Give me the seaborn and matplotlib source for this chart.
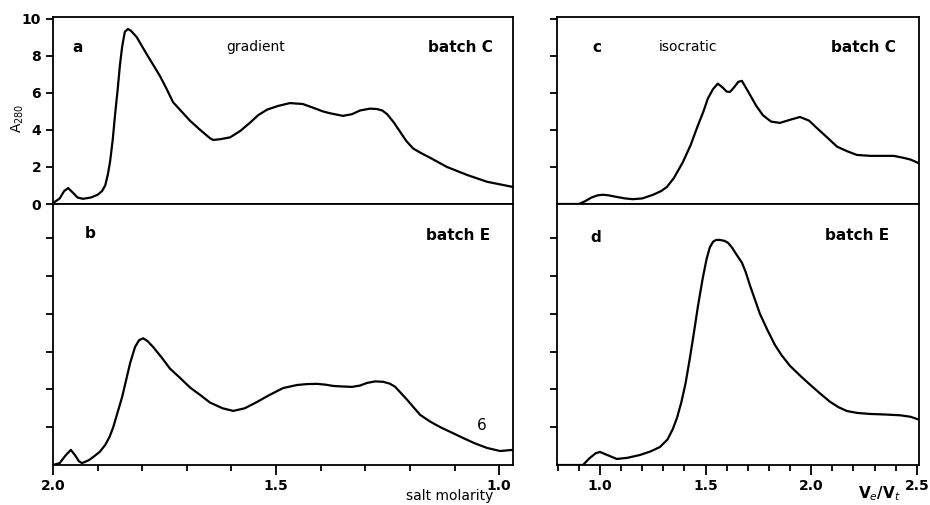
import matplotlib
matplotlib.use("Agg")
import matplotlib.pyplot as plt
import seaborn as sns
import pandas as pd
from matplotlib.ticker import MultipleLocator, FixedLocator

# ---- data ----
a_x = [2.00, 1.985, 1.975, 1.966, 1.955, 1.945, 1.933, 1.915, 1.90, 1.89, 1.883, 1.877, 1.872, 1.866,
       1.861, 1.855, 1.850, 1.845, 1.839, 1.832, 1.825, 1.812, 1.800, 1.789, 1.775, 1.760, 1.745, 1.731,
       1.712, 1.693, 1.670, 1.648, 1.641, 1.625, 1.603, 1.580, 1.558, 1.540, 1.520, 1.495, 1.469, 1.440,
       1.417, 1.395, 1.379, 1.350, 1.330, 1.312, 1.290, 1.274, 1.262, 1.251, 1.236, 1.222, 1.208, 1.193,
       1.175, 1.155, 1.117, 1.072, 1.027, 0.969]
a_y = [0.05, 0.3, 0.7, 0.86, 0.6, 0.35, 0.28, 0.35, 0.5, 0.7, 1.0, 1.6, 2.3, 3.5,
       4.8, 6.2, 7.5, 8.5, 9.3, 9.45, 9.35, 9.0, 8.5, 8.05, 7.5, 6.9, 6.2, 5.5,
       5.0, 4.5, 4.0, 3.55, 3.46, 3.5, 3.6, 3.95, 4.4, 4.8, 5.1, 5.3, 5.45, 5.4,
       5.2, 5.0, 4.9, 4.76, 4.85, 5.05, 5.15, 5.13, 5.05, 4.85, 4.4, 3.9, 3.4, 3.0,
       2.75, 2.5, 2.0, 1.57, 1.2, 0.92]

b_x = [2.00, 1.985, 1.972, 1.960, 1.950, 1.942, 1.935, 1.920, 1.910, 1.895, 1.883, 1.873, 1.865, 1.855,
       1.845, 1.836, 1.827, 1.816, 1.807, 1.798, 1.788, 1.776, 1.757, 1.738, 1.715, 1.693, 1.670, 1.648,
       1.620, 1.596, 1.570, 1.543, 1.515, 1.484, 1.453, 1.430, 1.408, 1.390, 1.372, 1.350, 1.330, 1.312,
       1.296, 1.278, 1.260, 1.245, 1.233, 1.220, 1.206, 1.190, 1.177, 1.155, 1.132, 1.105, 1.081, 1.055,
       1.027, 0.998, 0.969]
b_y = [0.0, 0.1, 0.5, 0.8, 0.5, 0.2, 0.1, 0.25, 0.42, 0.7, 1.06, 1.5, 2.0, 2.8,
       3.6, 4.5, 5.4, 6.25, 6.6, 6.7, 6.55, 6.25, 5.7, 5.1, 4.6, 4.1, 3.7, 3.3,
       3.0, 2.86, 3.0, 3.33, 3.7, 4.07, 4.23, 4.28, 4.29, 4.25, 4.18, 4.15, 4.13, 4.2,
       4.34, 4.42, 4.4, 4.3, 4.13, 3.8, 3.44, 3.0, 2.65, 2.3, 2.0, 1.7, 1.43, 1.15,
       0.9, 0.74, 0.8]

c_x = [0.80, 0.90, 0.93, 0.96, 0.99, 1.014, 1.04, 1.08, 1.12, 1.156, 1.20, 1.25, 1.29, 1.317, 1.35,
       1.393, 1.43, 1.459, 1.49, 1.511, 1.535, 1.558, 1.58, 1.60, 1.615, 1.635, 1.655, 1.672, 1.69,
       1.71, 1.74, 1.771, 1.81, 1.852, 1.90, 1.947, 1.99, 2.027, 2.075, 2.122, 2.17, 2.216, 2.28,
       2.339, 2.39, 2.434, 2.47, 2.51]
c_y = [0.0, 0.0, 0.15, 0.35, 0.47, 0.5, 0.47, 0.38, 0.3, 0.26, 0.3, 0.49, 0.7, 0.92, 1.4,
       2.27, 3.2, 4.1, 5.0, 5.7, 6.2, 6.5, 6.3, 6.07, 6.05, 6.3, 6.6, 6.65, 6.3,
       5.9, 5.3, 4.8, 4.45, 4.38, 4.55, 4.7, 4.5, 4.1, 3.6, 3.1, 2.85, 2.65, 2.6,
       2.6, 2.6, 2.5, 2.4, 2.2]

d_x = [0.80, 0.92, 0.95, 0.98, 1.00, 1.03, 1.08, 1.13, 1.19, 1.24, 1.284, 1.32, 1.345, 1.365,
       1.385, 1.405, 1.425, 1.445, 1.464, 1.487, 1.505, 1.52, 1.535, 1.55, 1.568, 1.59, 1.606,
       1.625, 1.645, 1.672, 1.69, 1.71, 1.735, 1.757, 1.79, 1.828, 1.86, 1.899, 1.95, 1.994,
       2.04, 2.088, 2.13, 2.17, 2.22, 2.278, 2.35, 2.42, 2.47, 2.51]
d_y = [0.0, 0.0, 0.35, 0.62, 0.69, 0.55, 0.32, 0.38, 0.53, 0.72, 0.95, 1.35, 1.9, 2.5,
       3.3, 4.3, 5.6, 7.0, 8.4, 9.9, 10.9, 11.5, 11.8, 11.9, 11.9, 11.85, 11.75,
       11.5, 11.15, 10.7, 10.2, 9.5, 8.7, 8.0, 7.2, 6.35, 5.8, 5.25, 4.7, 4.25,
       3.8, 3.35, 3.05, 2.85, 2.75, 2.7, 2.67, 2.63, 2.55, 2.4]

top_yticks = [0, 2, 4, 6, 8, 10]
bot_yticks = [2, 4, 6, 8, 10, 12]
left_xticks = [2.0, 1.5, 1.0]
left_xlabels = ["2.0", "1.5", "1.0"]
right_xticks = [1.0, 1.5, 2.0, 2.5]
right_xlabels = ["1.0", "1.5", "2.0", "2.5"]

sns.set_style("ticks")
plt.rcParams['font.family'] = ['DejaVu Sans']
plt.rcParams['text.color'] = 'black'
plt.rcParams['xtick.color'] = 'black'
plt.rcParams['ytick.color'] = 'black'

fig = plt.figure(figsize=(9.3, 5.05), dpi=100)
W, H = 930, 505

def mkax(x0, x1, y0, y1):
    return fig.add_axes([x0 / W, 1 - y1 / H, (x1 - x0) / W, (y1 - y0) / H])

ax_a = mkax(53, 513, 17, 204)
ax_b = mkax(53, 513, 204, 465)
ax_c = mkax(557, 919, 17, 204)
ax_d = mkax(557, 919, 204, 465)

lw = 1.6
for ax, xs, ys in [(ax_a, a_x, a_y), (ax_b, b_x, b_y), (ax_c, c_x, c_y), (ax_d, d_x, d_y)]:
    df = pd.DataFrame({"x": xs, "y": ys})
    sns.lineplot(data=df, x="x", y="y", ax=ax, color="black", linewidth=lw,
                 estimator=None, sort=False)
    ax.set_xlabel("")
    ax.set_ylabel("")
    for s in ax.spines.values():
        s.set_visible(True)
        s.set_linewidth(1.3)
        s.set_color("black")
    ax.tick_params(direction="out", length=5, width=1.3, colors="black", labelcolor="black")

# limits
for ax in (ax_a, ax_b):
    ax.set_xlim(2.0, 0.969)
for ax in (ax_c, ax_d):
    ax.set_xlim(0.797, 2.51)
for ax in (ax_a, ax_c):
    ax.set_ylim(0, 10.1)
for ax in (ax_b, ax_d):
    ax.set_ylim(0, 13.8)

# y ticks
ax_a.yaxis.set_major_locator(FixedLocator(top_yticks))
ax_a.set_yticklabels([str(t) for t in top_yticks], fontsize=10, fontweight="bold", color="black")
ax_c.yaxis.set_major_locator(FixedLocator(top_yticks[1:]))
ax_c.set_yticklabels([])
for ax in (ax_b, ax_d):
    ax.yaxis.set_major_locator(FixedLocator(bot_yticks))
    ax.set_yticklabels([])

# x ticks
for ax in (ax_a, ax_c):
    ax.set_xticks([])
ax_b.xaxis.set_major_locator(FixedLocator(left_xticks))
ax_b.set_xticklabels(left_xlabels, fontsize=10, fontweight="bold", color="black")
ax_b.xaxis.set_minor_locator(MultipleLocator(0.1))
ax_d.xaxis.set_major_locator(FixedLocator(right_xticks))
ax_d.set_xticklabels(right_xlabels, fontsize=10, fontweight="bold", color="black")
ax_d.xaxis.set_minor_locator(MultipleLocator(0.1))
for ax in (ax_b, ax_d):
    ax.tick_params(axis="x", which="major", length=7, width=1.3, pad=3)
    ax.tick_params(axis="x", which="minor", length=4, width=1.3)

# annotations
def ftxt(x, y, s, **kw):
    fig.text(x / W, 1 - y / H, s, ha="center", va="center", color="black", **kw)

ftxt(78, 47, "a", fontsize=11, fontweight="bold")
ftxt(256, 47, "gradient", fontsize=10)
ftxt(460, 47, "batch C", fontsize=11, fontweight="bold")
ftxt(90, 234, "b", fontsize=11, fontweight="bold")
ftxt(458, 235, "batch E", fontsize=11, fontweight="bold")
ftxt(482, 425, "6", fontsize=11)
ftxt(597, 47, "c", fontsize=11, fontweight="bold")
ftxt(688, 47, "isocratic", fontsize=10)
ftxt(863, 47, "batch C", fontsize=11, fontweight="bold")
ftxt(596, 237, "d", fontsize=11, fontweight="bold")
ftxt(857, 236, "batch E", fontsize=11, fontweight="bold")
ftxt(18, 118, r"A$_{280}$", fontsize=10, rotation=90)
ftxt(450, 496, "salt molarity", fontsize=10)
ftxt(880, 494, r"V$_e$/V$_t$", fontsize=11, fontweight="bold")

fig.savefig("out.png", dpi=100)
